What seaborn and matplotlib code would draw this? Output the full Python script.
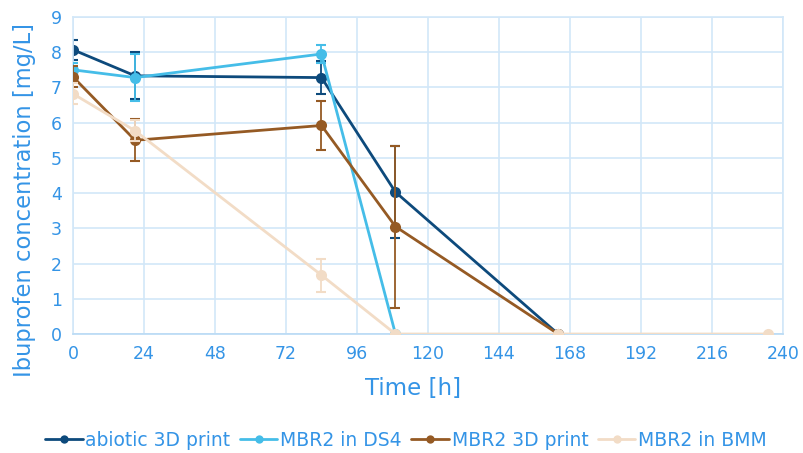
import numpy as np
import pandas as pd
import matplotlib
matplotlib.use("Agg")
import matplotlib.pyplot as plt
import seaborn as sns

series_names = ["abiotic 3D print", "MBR2 in DS4", "MBR2 3D print", "MBR2 in BMM"]
colors = ["#0D4A7C", "#45BDE8", "#955A24", "#F2DCC6"]

abiotic_t = [0, 21, 84, 109, 164]
abiotic_y = [8.07, 7.33, 7.28, 4.03, 0.0]
abiotic_e = [0.28, 0.67, 0.48, 1.3, 0.0]

ds4_t = [0, 21, 84, 109]
ds4_y = [7.5, 7.28, 7.95, 0.0]
ds4_e = [0.2, 0.67, 0.25, 0.0]

print_t = [0, 21, 84, 109, 164]
print_y = [7.3, 5.5, 5.92, 3.05, 0.0]
print_e = [0.3, 0.6, 0.7, 2.3, 0.0]

bmm_t = [0, 21, 84, 109, 164, 235]
bmm_y = [6.82, 5.77, 1.67, 0.0, 0.0, 0.0]
bmm_e = [0.3, 0.3, 0.47, 0.0, 0.0, 0.0]

x_ticks = [0, 24, 48, 72, 96, 120, 144, 168, 192, 216, 240]
y_ticks = list(range(0, 10))

data = [(abiotic_t, abiotic_y, abiotic_e), (ds4_t, ds4_y, ds4_e),
        (print_t, print_y, print_e), (bmm_t, bmm_y, bmm_e)]

rows = []
for name, (t, y, e) in zip(series_names, data):
    for ti, yi, ei in zip(t, y, e):
        rows.append({"Time": ti, "Conc": yi, "Err": ei, "Series": name})
df = pd.DataFrame(rows)

sns.set_theme(style="white")
plt.rcParams['font.family'] = ['DejaVu Sans']
text_color = "#3494E6"
grid_color = "#D2E7F8"

fig = plt.figure(figsize=(8.04, 4.53), dpi=100)
ax = fig.add_axes([73/804, 1-334/453, 710/804, 317/453])

for i, name in enumerate(series_names):
    sub = df[df.Series == name]
    ax.errorbar(sub.Time, sub.Conc, yerr=sub.Err, fmt='none', ecolor=colors[i],
                elinewidth=1.3, capsize=3.5, capthick=1.5, zorder=2 + i)
    sns.lineplot(data=sub, x="Time", y="Conc", color=colors[i], marker='o',
                 markersize=8, markeredgewidth=0, linewidth=2, ax=ax,
                 label=name, zorder=2.5 + i, errorbar=None, sort=False)

ax.set_xlim(0, 240)
ax.set_ylim(0, 9)
ax.set_xticks(x_ticks)
ax.set_yticks(y_ticks)
ax.grid(True, color=grid_color, linewidth=1.2)
ax.set_axisbelow(True)
for s in ax.spines.values():
    s.set_color(grid_color)
    s.set_linewidth(1.2)
ax.spines['bottom'].set_color("#B9DAF5")
ax.tick_params(axis='both', colors=text_color, labelsize=12.5, length=0, pad=8)
for lab in ax.get_xticklabels() + ax.get_yticklabels():
    lab.set_color(text_color)
ax.set_xlabel("Time [h]", color=text_color, fontsize=16.5)
ax.set_ylabel("Ibuprofen concentration [mg/L]", color=text_color, fontsize=16.3)
ax.xaxis.label.set_va('center')
ax.yaxis.label.set_va('center')
ax.xaxis.set_label_coords((413 - 73) / 710, (334 - 388) / 317)
ax.yaxis.set_label_coords((25 - 73) / 710, (334 - 200) / 317)

handles, labels = ax.get_legend_handles_labels()
leg = ax.legend(handles, labels, loc='center', bbox_to_anchor=((406 - 73) / 710, (334 - 440) / 317),
                ncol=4, frameon=False, fontsize=13.5, handlelength=2.0,
                handletextpad=0.15, columnspacing=0.5, labelcolor=text_color)
for h in leg.get_lines():
    h.set_markersize(6)
    h.set_linewidth(2)

fig.savefig("out.png", dpi=100)
